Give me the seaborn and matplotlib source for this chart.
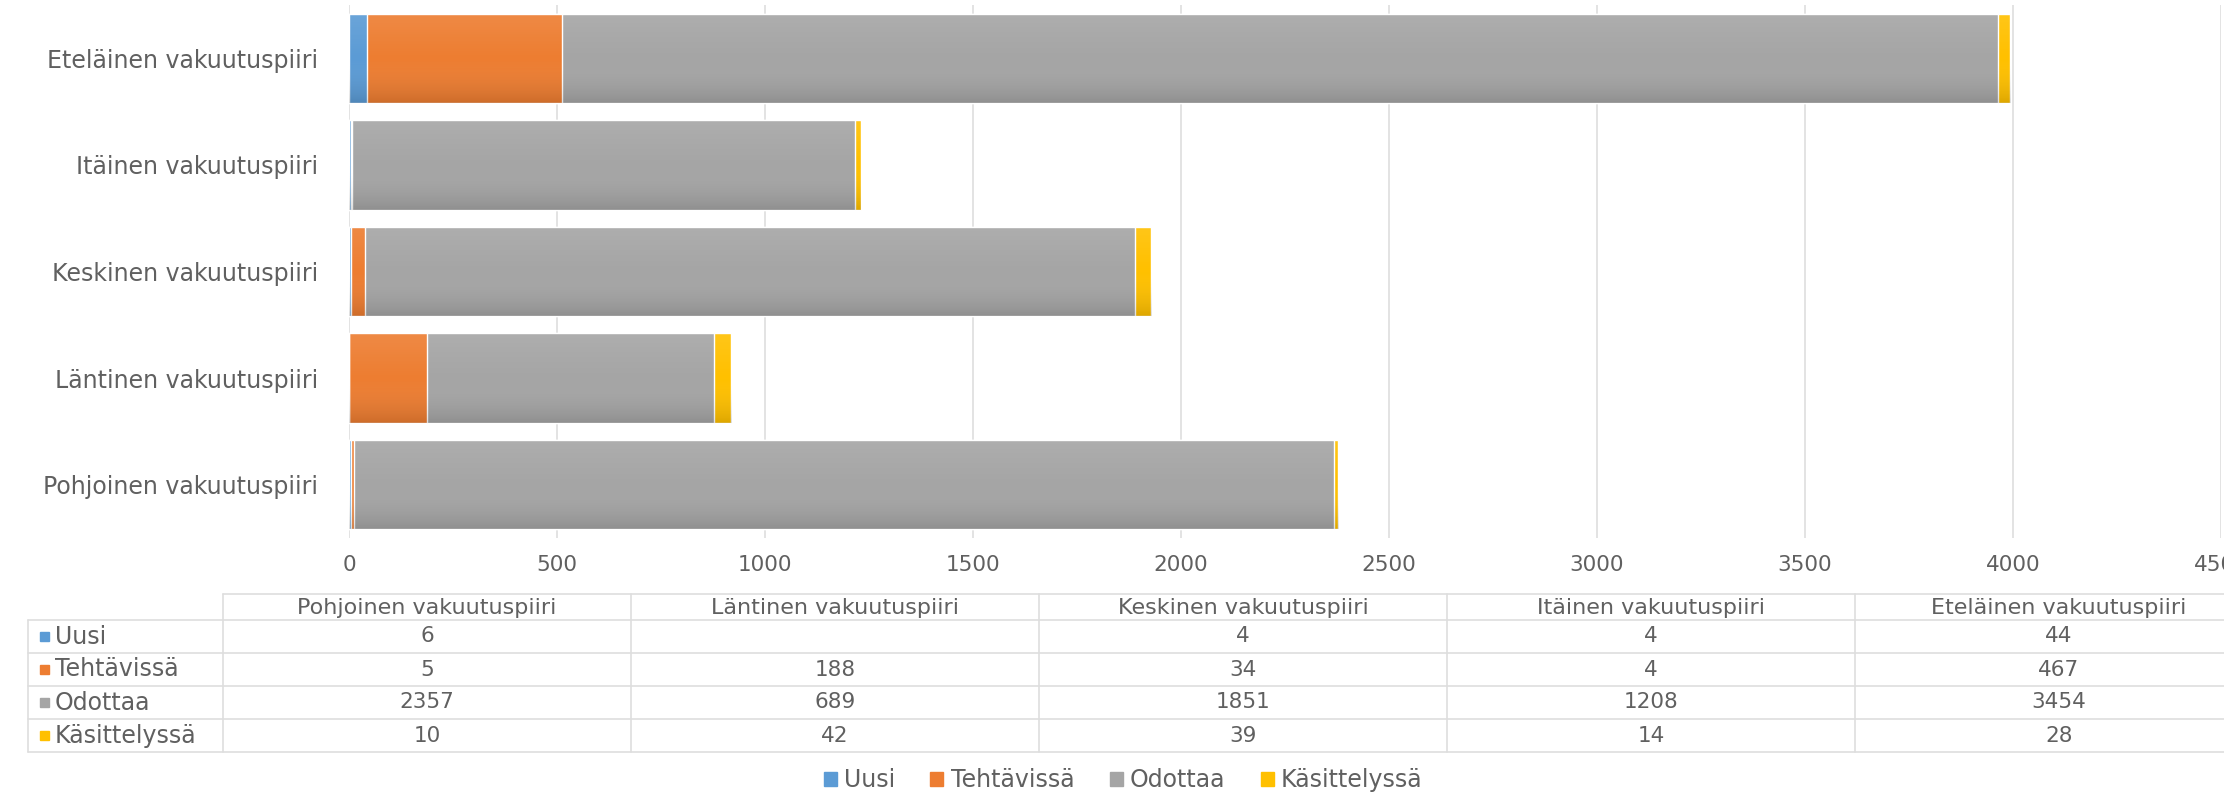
import numpy as np
import seaborn as sns
import pandas as pd
import matplotlib.pyplot as plt
from matplotlib.patches import Rectangle
from matplotlib.colors import LinearSegmentedColormap

districts = ['Pohjoinen vakuutuspiiri',
             'Läntinen vakuutuspiiri',
             'Keskinen vakuutuspiiri',
             'Itäinen vakuutuspiiri',
             'Eteläinen vakuutuspiiri']
statuses = ['Uusi', 'Tehtävissä', 'Odottaa', 'Käsittelyssä']
uusi = [6, None, 4, 4, 44]
tehtavissa = [5, 188, 34, 4, 467]
odottaa = [2357, 689, 1851, 1208, 3454]
kasittelyssa = [10, 42, 39, 14, 28]
x_ticks = [0, 500, 1000, 1500, 2000, 2500, 3000, 3500, 4000, 4500]

colors = ['#5B9BD5', '#ED7D31', '#A5A5A5', '#FFC000']
text_col = '#606060'
line_col = '#DEDEDE'

sns.set_theme(style='white')
plt.rcParams['font.family'] = ['DejaVu Sans']

df = pd.DataFrame({'district': districts, 'Uusi': uusi, 'Tehtävissä': tehtavissa,
                   'Odottaa': odottaa, 'Käsittelyssä': kasittelyssa}).fillna(0)
# cumulative sums for the stacked bars
cum = df[statuses].cumsum(axis=1)
cum['district'] = df['district']
order = districts[::-1]  # Eteläinen at the top

W, H = 2224, 808
fig = plt.figure(figsize=(W / 100, H / 100), dpi=100)
ax = fig.add_axes([349 / W, 1 - 538 / H, (2221 - 349) / W, 533 / H])

# draw largest cumulative first, then overlay the smaller ones
for s, c in reversed(list(zip(statuses, colors))):
    sns.barplot(data=cum, y='district', x=s, order=order, color=c,
                width=0.84, saturation=1, ax=ax, orient='h')

# soft vertical shading on the bars (lighter top, darker bottom)
shade = LinearSegmentedColormap.from_list(
    'shade', [(1, 1, 1, 0.10), (1, 1, 1, 0.0), (0, 0, 0, 0.13)])
grad = np.linspace(0, 1, 64).reshape(-1, 1)
full_bars = ax.patches[:len(order)]
for p in full_bars:
    y0, h, w = p.get_y(), p.get_height(), p.get_width()
    ax.imshow(grad, cmap=shade, aspect='auto', interpolation='bilinear',
              extent=(0, w, y0 + h, y0), zorder=3)

ax.set_xlim(0, 4500)
ax.set_ylim(len(order) - 0.5, -0.5)
ax.set_xticks(x_ticks)
ax.xaxis.grid(True, color=line_col, lw=1.2)
ax.set_axisbelow(True)
for sp in ax.spines.values():
    sp.set_visible(False)
ax.set_xlabel('')
ax.set_ylabel('')
ax.tick_params(axis='x', labelsize=15.5, colors=text_col, length=0, pad=12)
ax.tick_params(axis='y', labelsize=17, colors=text_col, length=0, pad=22)

# Data table below the chart, drawn in pixel coordinates
tab = fig.add_axes([0, 0, 1, 1])
tab.set_xlim(0, W)
tab.set_ylim(H, 0)
tab.axis('off')
col_x0, col_w = 223, 408
lab_x0 = 28
head_top, row_top, row_h = 594, 620, 33
n_rows = len(statuses)

# header row
tab.plot([col_x0, W], [head_top, head_top], color=line_col, lw=1.2)
for i, d in enumerate(districts):
    cx = col_x0 + col_w * (i + 0.5)
    tab.text(cx, (head_top + row_top) / 2 + 1, d, ha='center', va='center',
             fontsize=16, color=text_col)
for i in range(len(districts) + 1):
    x = col_x0 + col_w * i
    tab.plot([x, x], [head_top, row_top + n_rows * row_h], color=line_col, lw=1.2)
tab.plot([lab_x0, lab_x0], [row_top, row_top + n_rows * row_h], color=line_col, lw=1.2)
for r in range(n_rows + 1):
    y = row_top + r * row_h
    tab.plot([lab_x0, W], [y, y], color=line_col, lw=1.2)

table_vals = [uusi, tehtavissa, odottaa, kasittelyssa]
for r, (s, c, vals) in enumerate(zip(statuses, colors, table_vals)):
    yc = row_top + (r + 0.5) * row_h
    tab.add_patch(Rectangle((40, yc - 4.5), 9, 9, color=c))
    tab.text(55, yc, s, ha='left', va='center', fontsize=17, color=text_col)
    for i, v in enumerate(vals):
        if v is None:
            continue
        cx = col_x0 + col_w * (i + 0.5)
        tab.text(cx, yc, str(v), ha='center', va='center', fontsize=15.5, color=text_col)

# legend at the bottom
handles = [Rectangle((0, 0), 1, 1, color=c) for c in colors]
fig.legend(handles, statuses, loc='center', bbox_to_anchor=(1123 / W, 1 - 780 / H),
           ncol=4, frameon=False, fontsize=17, labelcolor=text_col,
           handlelength=0.55, handleheight=0.55, handletextpad=0.3, columnspacing=1.5)

fig.savefig('out.png', dpi=100)
